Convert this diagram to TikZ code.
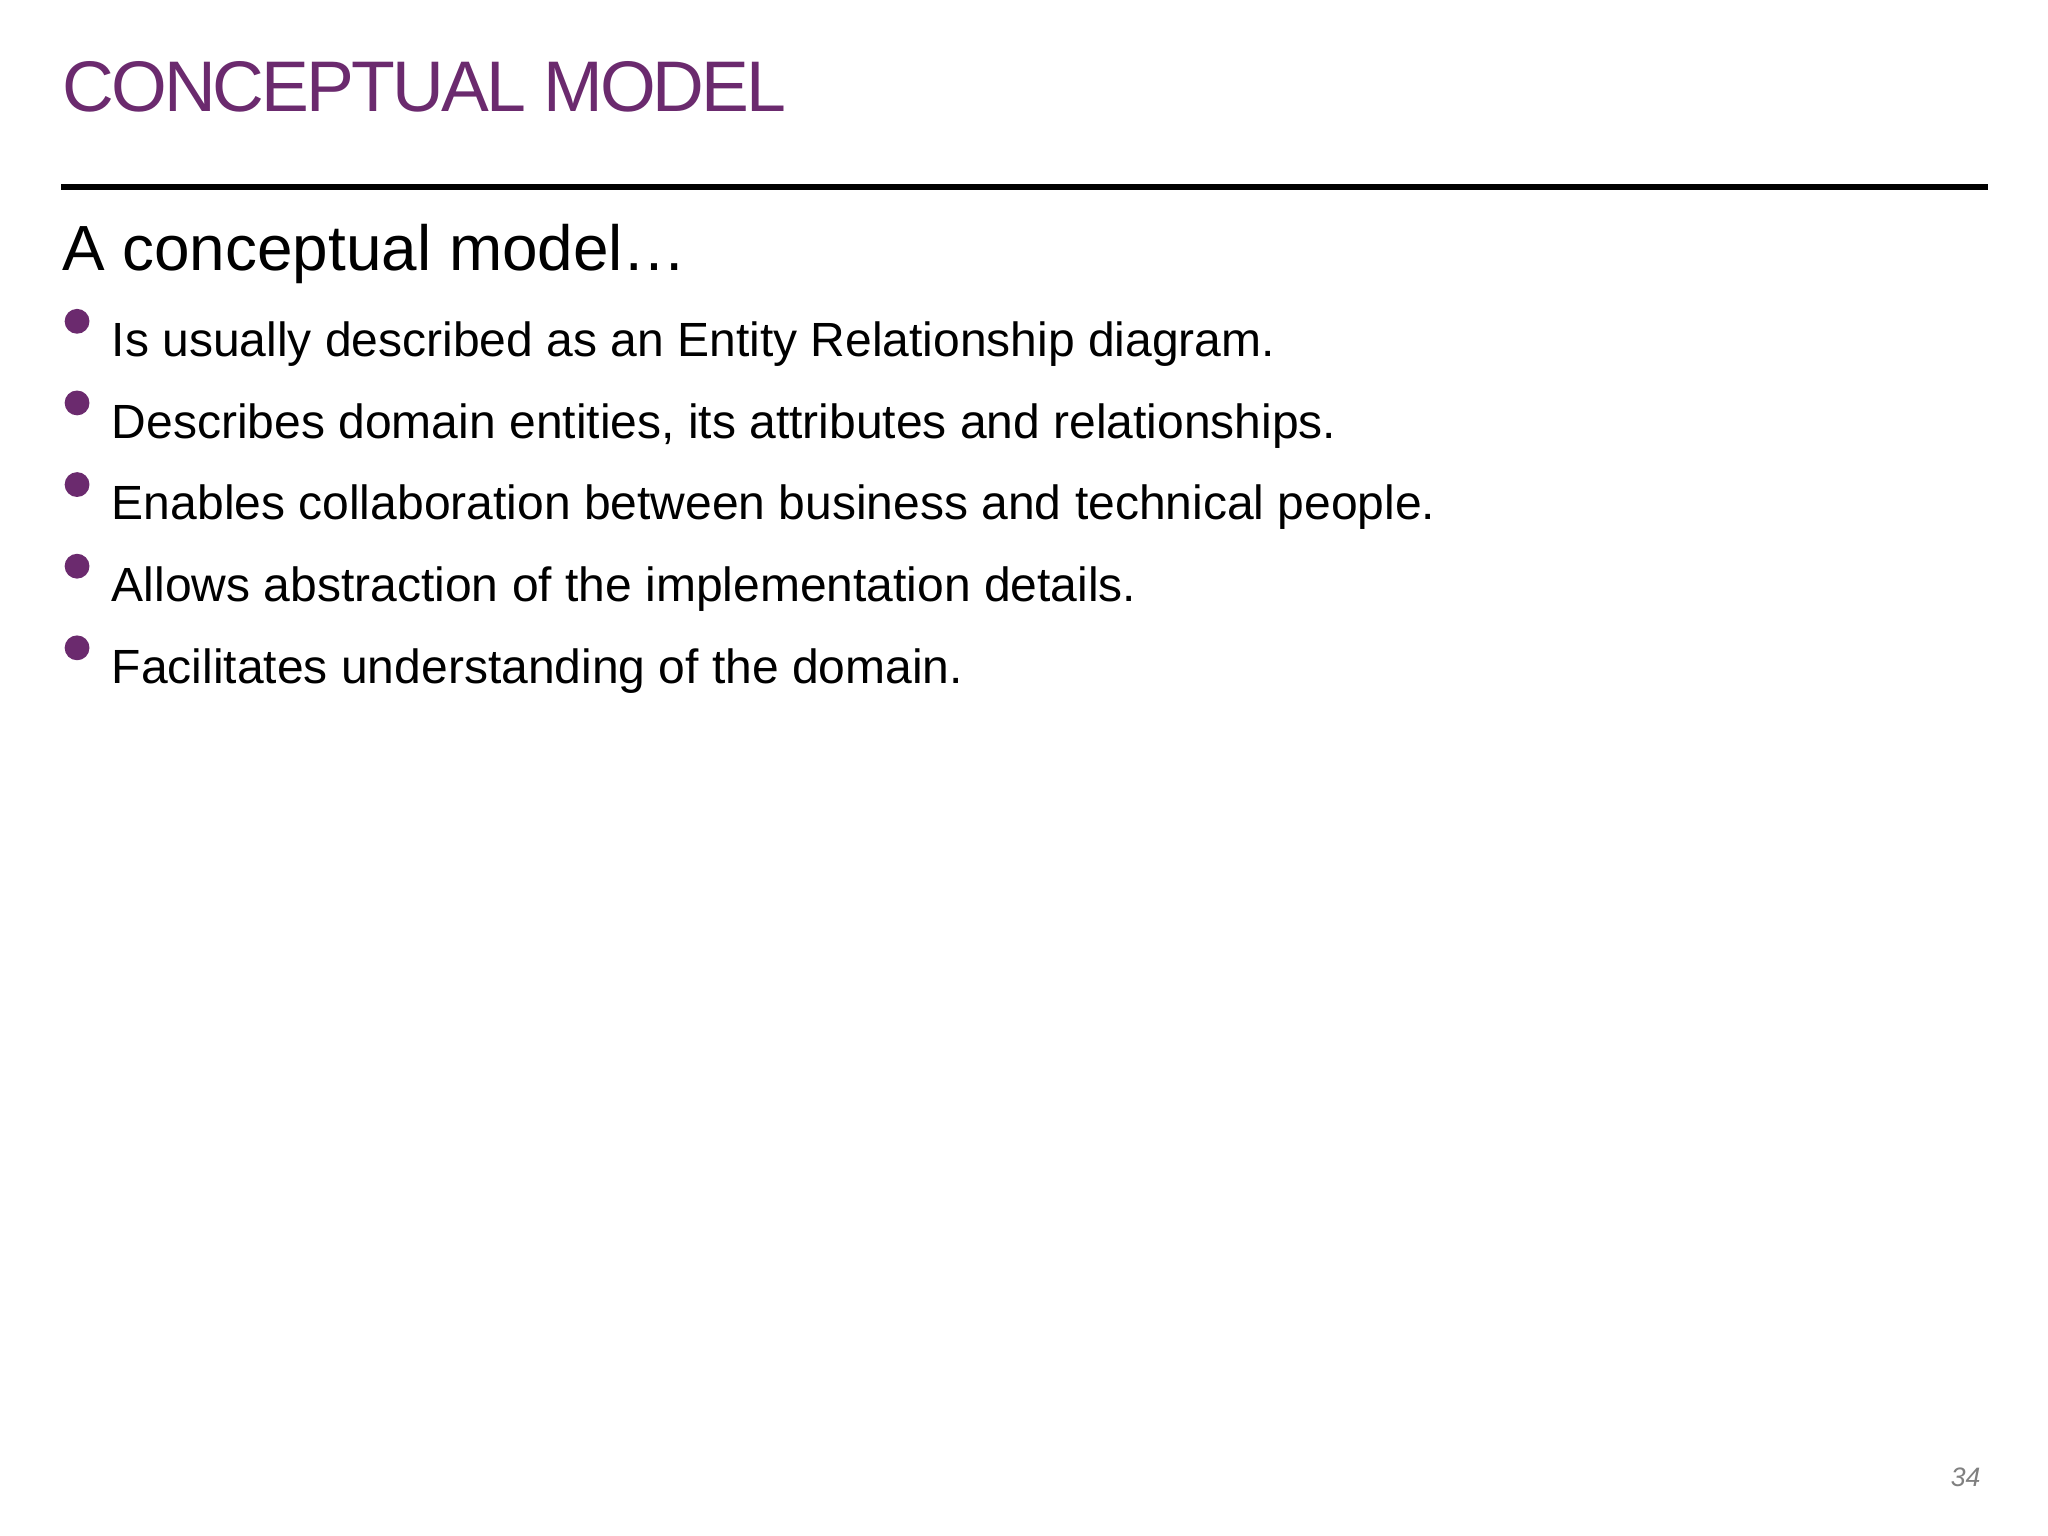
\documentclass[tikz,border=0pt]{standalone}
\usepackage{fontspec}
\setmainfont{Liberation Sans}
\definecolor{plum}{HTML}{6B2A6E}
\begin{document}
\begin{tikzpicture}[x=0.01cm,y=-0.01cm,
  bul/.style={anchor=base west,font=\fontsize{10.45}{12}\selectfont,inner sep=0},
  dot/.style={circle,fill=plum,inner sep=0,minimum size=0.19cm}]
\fill[white] (0,0) rectangle (1568,1176);
\node[anchor=base west,inner sep=0,text=plum,font=\fontsize{15.6}{18}\selectfont] (title) at (47,85) {\addfontfeature{LetterSpace=-4}CONCEPTUAL MODEL};
\coordinate (l1) at (47,143); \coordinate (l2) at (1522,143);
\draw[line width=1.2pt] (l1) -- (l2);
\node[anchor=base west,inner sep=0,font=\fontsize{13.9}{16}\selectfont] (head) at (47,207) {A conceptual model…};
\foreach \i/\t in {1/Is usually described as an Entity Relationship diagram.,
  2/{Describes domain entities, its attributes and relationships.},
  3/Enables collaboration between business and technical people.,
  4/Allows abstraction of the implementation details.,
  5/Facilitates understanding of the domain.}{
  \node[dot] (d\i) at (59,{246+62.5*(\i-1)}) {};
  \node[bul] (b\i) at (85,{273+62.5*(\i-1)}) {\t};
}
\node[anchor=base east,inner sep=0,text=gray,font=\fontsize{5.8}{7}\selectfont\itshape] (pg) at (1517,1138) {34};
\end{tikzpicture}
\end{document}
